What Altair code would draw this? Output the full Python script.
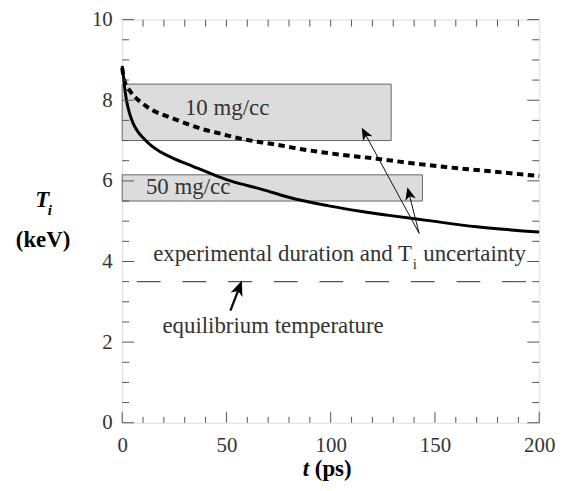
import math
import altair as alt
import pandas as pd

# ---- data ----
t_solid = [0, 0.6, 1.1, 1.9, 3.5, 5.5, 7.5, 10, 13.8, 18, 23.3, 34.4, 45.5, 52, 67, 83, 99, 115, 127, 146, 170, 200]
T_solid = [8.85, 8.6, 8.35, 8.05, 7.68, 7.4, 7.22, 7.07, 6.88, 6.73, 6.59, 6.35, 6.12, 6.0, 5.79, 5.55, 5.38, 5.24, 5.15, 5.02, 4.86, 4.73]

t_dot = [0, 1, 4.3, 9, 14.6, 20, 25.7, 38, 48, 54, 65, 75, 81, 108, 122, 140, 154, 172, 200]
T_dot = [8.8, 8.5, 8.19, 7.95, 7.75, 7.63, 7.52, 7.29, 7.16, 7.08, 6.97, 6.89, 6.83, 6.63, 6.55, 6.43, 6.35, 6.26, 6.12]

box_label = ["10 mg/cc", "50 mg/cc"]
box_t0 = [0, 0]
box_t1 = [129, 144]
box_lo = [7.0, 5.5]
box_hi = [8.4, 6.15]

equil_T = 3.5
equil_t = [7, 196]

x_major = [0, 50, 100, 150, 200]
x_minor = [v for v in range(10, 200, 10) if v % 50 != 0]
x_top = list(range(10, 200, 10))
y_major = [0, 2, 4, 6, 8, 10]
y_minor = [v / 2 for v in range(1, 20) if v % 4 != 0]

# annotations (data coordinates)
ann_text = ["10 mg/cc", "50 mg/cc", "equilibrium temperature"]
ann_t = [30.1, 11.4, 19.3]
ann_T = [7.63, 5.67, 2.22]

# arrows: tail -> tip
arr_tail_t = [142.4, 142.4, 51.9]
arr_tail_T = [4.70, 4.70, 2.78]
arr_tip_t = [114.9, 136.8, 57.4]
arr_tip_T = [7.32, 5.84, 3.52]
arr_width = [1.0, 1.0, 2.4]
arr_size = [160, 160, 225]

# ---- layout ----
W, H = 420, 406
FONT = "Liberation Serif, DejaVu Serif, serif"
AX = "#555555"
TXT = "#333333"

xs = alt.Scale(domain=[0, 200], nice=False, zero=False)
ys = alt.Scale(domain=[0, 10], nice=False, zero=False)

xaxis = alt.Axis(values=x_major, ticks=False, domain=False, grid=False, title=None,
                 labelFont=FONT, labelFontSize=21, labelColor=TXT, labelPadding=12,
                 labelFlush=False, format="d")
yaxis = alt.Axis(values=y_major, ticks=False, domain=False, grid=False, title=None,
                 labelFont=FONT, labelFontSize=21, labelColor=TXT, labelPadding=10, format="d")


def X(f):
    return alt.X(f, scale=xs, axis=xaxis)


def Y(f):
    return alt.Y(f, scale=ys, axis=yaxis)


boxes = pd.DataFrame({"label": box_label, "t0": box_t0, "t1": box_t1, "lo": box_lo, "hi": box_hi})
box_layer = alt.Chart(boxes).mark_rect(fill="#dcdcdc", stroke="#666666", strokeWidth=1).encode(
    x=X("t0:Q"), x2="t1:Q", y=Y("lo:Q"), y2="hi:Q")

solid = alt.Chart(pd.DataFrame({"t": t_solid, "T": T_solid})).mark_line(
    color="black", strokeWidth=3, interpolate="monotone").encode(x=X("t:Q"), y=Y("T:Q"))

dotted = alt.Chart(pd.DataFrame({"t": t_dot, "T": T_dot})).mark_line(
    color="black", strokeWidth=4, strokeDash=[6.5, 4.5], interpolate="monotone").encode(
    x=X("t:Q"), y=Y("T:Q"))

equil = alt.Chart(pd.DataFrame({"t0": [equil_t[0]], "t1": [equil_t[1]], "T": [equil_T]})).mark_rule(
    color=AX, strokeWidth=1.2, strokeDash=[24, 22]).encode(x=X("t0:Q"), x2="t1:Q", y=Y("T:Q"))


# ---- ticks (inward) ----
def xticks(vals, y0, y1):
    return alt.Chart(pd.DataFrame({"v": vals})).mark_rule(color=AX, strokeWidth=1).encode(
        x=X("v:Q"), y=alt.value(y0), y2=alt.value(y1))


def yticks(vals, x0, x1):
    return alt.Chart(pd.DataFrame({"v": vals})).mark_rule(color=AX, strokeWidth=1).encode(
        y=Y("v:Q"), x=alt.value(x0), x2=alt.value(x1))


ticks = [
    xticks(x_major, H - 11, H), xticks(x_minor, H - 6, H),
    xticks(x_top, 0, 7),
    yticks(y_major, 0, 12), yticks(y_minor, 0, 7),
    yticks(y_major, W - 12, W), yticks(y_minor, W - 7, W),
]

# ---- annotation text ----
ann = alt.Chart(pd.DataFrame({"t": ann_t, "T": ann_T, "label": ann_text})).mark_text(
    align="left", baseline="alphabetic", font=FONT, fontSize=23, color=TXT).encode(
    x=X("t:Q"), y=Y("T:Q"), text="label:N")

exp1 = alt.Chart(pd.DataFrame({"t": [139.0], "T": [4.02], "label": ["experimental duration and T"]})).mark_text(
    align="right", baseline="alphabetic", font=FONT, fontSize=23, color=TXT).encode(
    x=X("t:Q"), y=Y("T:Q"), text="label:N")
exp_sub = alt.Chart(pd.DataFrame({"t": [139.4], "T": [3.82], "label": ["i"]})).mark_text(
    align="left", baseline="alphabetic", font=FONT, fontSize=15, color=TXT).encode(
    x=X("t:Q"), y=Y("T:Q"), text="label:N")
exp2 = alt.Chart(pd.DataFrame({"t": [144.4], "T": [4.02], "label": ["uncertainty"]})).mark_text(
    align="left", baseline="alphabetic", font=FONT, fontSize=23, color=TXT).encode(
    x=X("t:Q"), y=Y("T:Q"), text="label:N")

# ---- arrows ----
rows = []
for i in range(len(arr_tip_t)):
    dxp = (arr_tip_t[i] - arr_tail_t[i]) * W / 200
    dyp = (arr_tip_T[i] - arr_tail_T[i]) * H / 10
    L = math.hypot(dxp, dyp)
    ux, uy = dxp / L, dyp / L
    r = math.sqrt(arr_size[i]) / 2
    ct = arr_tip_t[i] - ux * r * 200 / W
    cT = arr_tip_T[i] - uy * r * 10 / H
    nt = arr_tip_t[i] - ux * r * 1.3 * 200 / W
    nT = arr_tip_T[i] - uy * r * 1.3 * 10 / H
    ang = math.degrees(math.atan2(dxp, dyp)) % 360
    rows.append({"t": arr_tail_t[i], "T": arr_tail_T[i], "t2": nt, "T2": nT,
                 "ct": ct, "cT": cT, "ang": ang, "sz": arr_size[i], "w": arr_width[i]})
arrows = pd.DataFrame(rows)

arrow_lines = alt.Chart(arrows).mark_rule(color="#111111").encode(
    x=X("t:Q"), y=Y("T:Q"), x2="t2:Q", y2="T2:Q",
    strokeWidth=alt.StrokeWidth("w:Q", scale=None, legend=None))

head_path = "M0,-1L0.85,1L0,0.45L-0.85,1Z"
arrow_heads = alt.Chart(arrows).mark_point(shape=head_path, filled=True, color="black", opacity=1,
                                           strokeWidth=0).encode(
    x=X("ct:Q"), y=Y("cT:Q"),
    angle=alt.Angle("ang:Q", scale=None), size=alt.Size("sz:Q", scale=None, legend=None))


# ---- axis titles as text ----
def label(txt, x, y, size=23, weight="bold", style="normal", align="center"):
    return alt.Chart(alt.Data(values=[{"s": txt}])).mark_text(
        font=FONT, fontSize=size, fontWeight=weight, fontStyle=style, align=align,
        baseline="alphabetic", color="black").encode(
        x=alt.value(x), y=alt.value(y), text="s:N")


titles = [
    label("T", -80.5, 188.7, size=23, style="italic"),
    label("i", -75, 197, size=15, style="italic", align="left"),
    label("(keV)", -79.7, 228.7),
    label("t", 185, 460, style="italic"),
    label("(ps)", 194, 460, align="left"),
]

chart = alt.layer(
    box_layer, equil, solid, dotted, *ticks, ann, exp1, exp_sub, exp2,
    arrow_lines, arrow_heads, *titles
).properties(
    width=W, height=H,
    autosize=alt.AutoSizeParams(type="none"),
    padding={"left": 115, "top": 10, "right": 30, "bottom": 60},
).configure_view(stroke=AX, strokeWidth=1).configure(background="white")

chart.save("out.html", embed_options={"renderer": "svg", "actions": False})
